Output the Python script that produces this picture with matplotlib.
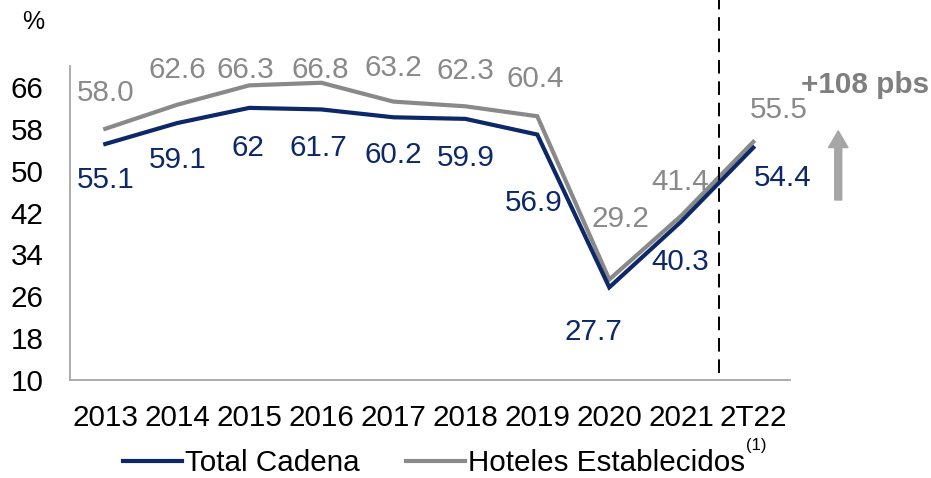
import numpy as np
import matplotlib
matplotlib.use("Agg")
import matplotlib.pyplot as plt

plt.rcParams["font.family"] = ["Liberation Sans", "DejaVu Sans"]

# data
categories = ["2013", "2014", "2015", "2016", "2017", "2018", "2019", "2020", "2021", "2T22"]
total_cadena = [55.1, 59.1, 62.0, 61.7, 60.2, 59.9, 56.9, 27.7, 40.3, 54.4]
hoteles = [58.0, 62.6, 66.3, 66.8, 63.2, 62.3, 60.4, 29.2, 41.4, 55.5]
y_ticks = [10, 18, 26, 34, 42, 50, 58, 66]

# label offsets in pixels (dx, dy)
gray_off = [(0, 36), (0, 35), (-4, 15), (-1, 13), (0, 34), (0, 35), (-2, 37), (11, 61), (-1, 34), (25, 32)]
dark_off = [(0, -36), (0, -37), (-1, -40), (-3, -39), (0, -38), (0, -39), (-4, -68), (-16, -45), (-1, -41), (29, -30)]

NAVY = "#0c2868"
GRAY = "#898989"
FS = 21.3

fig = plt.figure(figsize=(9.31, 4.78), dpi=100)
ax = fig.add_axes([70 / 931, 98 / 478, 720 / 931, 314 / 478])

x = np.arange(len(categories))
ax.plot(x, hoteles, color=GRAY, lw=3, solid_joinstyle="miter", label="Hoteles Establecidos")
ax.plot(x, total_cadena, color=NAVY, lw=3, solid_joinstyle="miter", label="Total Cadena")

for i, v in enumerate(hoteles):
    ax.annotate(f"{v:.1f}", (x[i], v), xytext=gray_off[i], textcoords="offset pixels",
                ha="center", va="center", fontsize=FS, color=GRAY)
for i, v in enumerate(total_cadena):
    ax.annotate(f"{v:g}", (x[i], v), xytext=dark_off[i], textcoords="offset pixels",
                ha="center", va="center", fontsize=FS, color=NAVY)

ax.set_xlim(-0.49, 9.51)
ax.set_ylim(10, 70)
ax.set_xticks(x)
ax.set_xticklabels(categories)
ax.set_yticks(y_ticks)
ax.tick_params(axis="both", length=0, labelsize=FS)
ax.tick_params(axis="x", pad=17)
ax.tick_params(axis="y", pad=19)
for s in ["top", "right"]:
    ax.spines[s].set_visible(False)
for s in ["left", "bottom"]:
    ax.spines[s].set_color("#a6a6a6")
    ax.spines[s].set_linewidth(1.3)

# separator before the last period
ax.plot([8.53, 8.53], [11.3, 83], color="black", lw=1.4, ls=(0, (7, 4)), clip_on=False)

# change arrow
ax.annotate("", xy=(10.18, 57.6), xytext=(10.18, 44.4), annotation_clip=False,
            arrowprops=dict(width=5, headwidth=14, headlength=12, color="#a6a6a6", shrink=0))
fig.text(865 / 931, 1 - 85 / 478, "+108 pbs", ha="center", va="center",
         fontsize=FS, fontweight="bold", color="#7f7f7f")

fig.text(33 / 931, 1 - 22 / 478, "%", ha="center", va="center", fontsize=18)

h, l = ax.get_legend_handles_labels()
leg = fig.legend([h[1], h[0]], [l[1], l[0]], loc="center", bbox_to_anchor=(0.466, 0.031),
                 ncol=2, frameon=False, fontsize=FS, handlelength=2.0,
                 handletextpad=0.1, columnspacing=1.55)
fig.canvas.draw()
bb = leg.get_texts()[1].get_window_extent()
fig.text((bb.x1 + 1) / 931, (bb.y1 - 4) / 478, "(1)", fontsize=12, ha="left", va="bottom")

fig.savefig("out.png", dpi=100)
